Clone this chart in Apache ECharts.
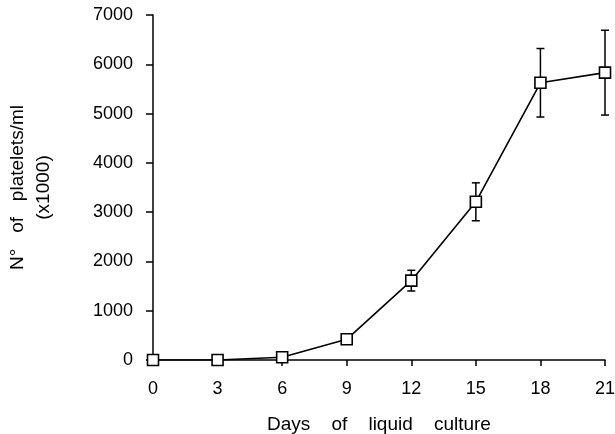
<!DOCTYPE html>
<html><head><meta charset="utf-8">
<script src="https://cdn.jsdelivr.net/npm/echarts@6/dist/echarts.min.js"></script>
<style>html,body{margin:0;padding:0;background:#fff}#c{width:615px;height:434px}</style>
</head><body><div id="c"></div>
<script>
const days = [0, 3, 6, 9, 12, 15, 18, 21];
const platelets = [0, 0, 55, 420, 1610, 3210, 5625, 5830];
const errors = [0, 0, 0, 0, 210, 385, 695, 860];
const xTicks = [0, 3, 6, 9, 12, 15, 18, 21];
const yTicks = [0, 1000, 2000, 3000, 4000, 5000, 6000, 7000];

const font = 'Liberation Sans, Arial, Helvetica, sans-serif';
const lineData = days.map((d, i) => [d, platelets[i]]);
const errData = days.map((d, i) => [d, platelets[i] - errors[i], platelets[i] + errors[i]]).filter((r, i) => errors[i] > 0);

const chart = echarts.init(document.getElementById('c'), null, {renderer: 'canvas'});
chart.setOption({
  animation: false,
  backgroundColor: '#fff',
  grid: {left: 153, right: 10, top: 15, bottom: 74, containLabel: false, outerBoundsMode: 'none'},
  xAxis: {
    type: 'value', min: xTicks[0], max: xTicks[xTicks.length - 1], interval: 3,
    name: 'Days    of    liquid    culture', nameLocation: 'middle', nameGap: 55,
    nameTextStyle: {fontFamily: font, fontSize: 19, color: '#000'},
    axisLine: {show: true, onZero: false, lineStyle: {color: '#000', width: 1.5}},
    axisTick: {show: true, length: 6, lineStyle: {color: '#000', width: 1.5}},
    axisLabel: {fontFamily: font, fontSize: 18, color: '#000', margin: 20,
      formatter: v => xTicks.includes(v) ? String(v) : ''},
    splitLine: {show: false}
  },
  yAxis: {
    type: 'value', min: yTicks[0], max: yTicks[yTicks.length - 1], interval: 1000,
    name: 'N°   of   platelets/ml\n(x1000)', nameLocation: 'middle', nameGap: 96, nameRotate: 90,
    nameTextStyle: {fontFamily: font, fontSize: 19, color: '#000', lineHeight: 26, align: 'center'},
    axisLine: {show: true, onZero: false, lineStyle: {color: '#000', width: 1.5}},
    axisTick: {show: true, length: 7, lineStyle: {color: '#000', width: 1.5}},
    axisLabel: {fontFamily: font, fontSize: 18, color: '#000', margin: 20,
      formatter: v => yTicks.includes(v) ? String(v) : ''},
    splitLine: {show: false}
  },
  series: [
    {
      type: 'custom',
      data: errData,
      encode: {x: 0, y: [1, 2]},
      z: 1,
      renderItem: function (params, api) {
        const x = api.value(0);
        const lo = api.coord([x, api.value(1)]);
        const hi = api.coord([x, api.value(2)]);
        const w = 4;
        const style = {stroke: '#000', lineWidth: 1.5};
        return {
          type: 'group',
          children: [
            {type: 'line', shape: {x1: lo[0], y1: lo[1], x2: hi[0], y2: hi[1]}, style},
            {type: 'line', shape: {x1: hi[0] - w, y1: hi[1], x2: hi[0] + w, y2: hi[1]}, style},
            {type: 'line', shape: {x1: lo[0] - w, y1: lo[1], x2: lo[0] + w, y2: lo[1]}, style}
          ]
        };
      }
    },
    {
      type: 'line',
      data: lineData,
      z: 3,
      symbol: 'rect',
      symbolSize: 11,
      showAllSymbol: true,
      lineStyle: {color: '#000', width: 1.6},
      itemStyle: {color: '#fff', borderColor: '#000', borderWidth: 1.6},
      emphasis: {disabled: true}
    }
  ]
});
</script></body></html>
